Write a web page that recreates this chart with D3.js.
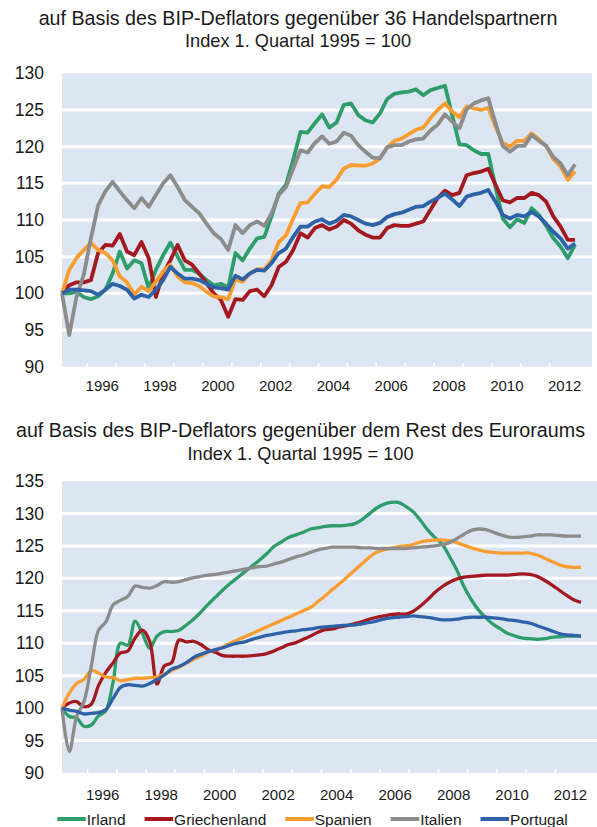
<!DOCTYPE html>
<html><head><meta charset="utf-8">
<script src="https://cdn.jsdelivr.net/npm/d3@7"></script>
<style>
body{margin:0;background:#fff}
svg{display:block}
text{font-family:"Liberation Sans",Arial,Helvetica,sans-serif;fill:#1a1a1a}
</style>
</head><body>
<svg id="chart" width="597" height="827"></svg>
<script>
// ---------- data ----------
const seriesNames = ["Irland","Griechenland","Spanien","Italien","Portugal"];
const seriesColors = ["#2f9d6a","#a3191f","#f99d31","#8c8c8c","#2d62a8"];
const yearLabels = ["1996","1998","2000","2002","2004","2006","2008","2010","2012"];
const firstYear = 1995;
const titles = ["auf Basis des BIP-Deflators gegenüber 36 Handelspartnern","auf Basis des BIP-Deflators gegenüber dem Rest des Euroraums"];
const subtitle = "Index 1. Quartal 1995 = 100";
const topYTicks = [90,95,100,105,110,115,120,125,130];
const botYTicks = [90,95,100,105,110,115,120,125,130,135];

// Chart 1: gegenüber 36 Handelspartnern (quarterly, 1995Q1..2012Q4)
const topIrland = [100,100,100.2,99.5,99.2,99.6,100.5,102.7,105.7,103.4,104.5,104.1,100.7,103.2,105.2,106.9,105,103.2,103.2,102.7,101.8,101.1,101.3,100.8,105.5,104.5,106.1,107.5,107.7,110.5,113.6,114.8,118.2,122,121.9,123.2,124.4,122.6,123.3,125.7,125.9,124.3,123.6,123.3,124.5,126.5,127.2,127.4,127.5,127.8,127,127.7,128,128.3,124.3,120.3,120.2,119.5,119,119,114.5,110.2,109,110.1,109.6,111.6,110.7,109.2,107.5,106.4,104.8,106.6];
const topGriechenland = [100,101.1,101.5,101.5,101.8,105.5,106.6,106.5,108.1,105.7,105.2,107,104.8,99.5,102.7,104.5,106.6,104.5,103.9,102.7,101.4,100,99.1,96.8,99.2,99.1,100.3,100.5,99.6,101.1,103.6,104.3,105.9,108.2,107.6,108.9,109.3,108.7,109.1,110,109.5,108.6,108,107.6,107.6,108.9,109.3,109.2,109.2,109.5,109.8,111.4,113,114,113.4,113.7,116.1,116.4,116.6,117,114.8,112.7,112.4,113,113,113.7,113.4,112.5,110.5,109.1,107.3,107.3];
const topSpanien = [100,103.2,104.8,105.9,106.9,105.9,105.5,104.5,102.3,101.5,99.8,100.9,100.3,101.6,103,103.9,102.3,101.5,101.4,101,100.2,99.6,99.5,99.2,101.9,101.6,102.7,103.3,103.3,104.5,107,107.9,110.2,112.3,112.4,113.6,114.6,114.5,115.5,117,117.5,117.4,117.4,117.7,118.4,119.9,120.8,121.1,121.7,122.3,122.6,123.9,125,125.9,124.8,124,125.5,125.2,125,125.3,122.7,120.5,120,120.8,120.8,121.8,121,120.1,118.3,117.3,115.5,116.6];
const topItalien = [100,94.3,99.5,102.5,107.5,112,113.9,115.2,113.9,112.7,111.6,113,111.8,113.4,115,116.1,114.5,112.7,111.8,110.9,109.5,108.2,107.4,105.9,109.3,108.2,109.3,109.8,109.2,110.9,113.4,114.5,117,119.5,119.2,120.5,121.4,120.4,120.7,121.9,121.5,120.2,119.3,118.5,118.4,119.9,120.2,120.2,120.7,121,121.1,122.2,123,124.4,123.4,122.5,125.1,125.9,126.3,126.6,123.2,120.1,119.3,120.1,120.1,121.6,120.8,120.1,118.6,117.7,116.1,117.6];
const topPortugal = [100,100.5,100.5,100.4,100.3,99.8,100.5,101.3,101,100.5,99.3,99.8,99.5,100.5,101.8,103.6,102.7,102,102,101.8,101.3,100.8,100.7,100.5,102.4,101.9,102.7,103.2,103.1,104.1,105.5,106.1,107.7,109.1,109.1,109.8,110.1,109.5,109.9,110.7,110.5,110,109.5,109.3,109.6,110.4,110.8,111,111.4,111.8,111.9,112.5,113,113.6,112.8,111.9,113.2,113.5,113.7,114.1,112.5,110.7,110.2,110.7,110.5,111.1,110.5,109.5,108.4,107.5,106.1,106.8];

// Chart 2: gegenüber dem Rest des Euroraums (quarterly, 1995Q1..2012Q4)
const botIrland = [100,98.7,98.5,97.2,97.4,98.8,99.6,104.1,110,109.7,113.4,111.5,109.2,111.1,111.8,111.8,112,112.8,113.7,114.8,116,117.1,118.2,119.2,120.1,121,121.9,122.8,123.8,124.9,125.6,126.3,126.7,127.1,127.6,127.8,128,128.1,128.1,128.2,128.4,129,129.9,130.8,131.4,131.7,131.7,131.1,130.3,129,127.5,126.3,125.3,123.4,121.3,118.7,116.7,115.1,113.9,112.9,112.2,111.5,111.1,110.8,110.7,110.6,110.7,110.9,111,111.1,111.1,111.1];
const botGriechenland = [100,100.8,101,100.2,100.6,103.5,105.5,107,108.5,108.8,110.8,112,110.3,103.7,106.5,107,110.5,110.2,110.3,109.8,109,108.6,108.1,108,108,108,108.1,108.2,108.4,108.8,109.3,109.8,110.1,110.6,111.1,111.7,112.1,112.2,112.5,112.7,113,113.3,113.7,114,114.2,114.4,114.5,114.5,114.9,115.7,116.7,117.8,118.7,119.4,119.9,120.2,120.3,120.4,120.5,120.5,120.5,120.5,120.6,120.7,120.6,120.3,119.7,119,118.2,117.4,116.7,116.3];
const botSpanien = [100,102.3,103.8,104.4,105.8,105.4,104.8,104.7,104.2,104.4,104.6,104.6,104.7,104.8,105.2,105.8,106.3,106.9,107.5,108,108.6,109,109.4,110,110.5,111,111.5,112,112.5,113,113.5,114,114.5,115,115.5,116.4,117.3,118.3,119.2,120.2,121.2,122.2,123.2,124,124.4,124.6,124.9,125,125.2,125.6,125.8,125.9,125.9,125.8,125.5,125.1,124.7,124.4,124.1,124,123.9,123.9,123.9,123.9,123.9,123.6,123.1,122.6,122.1,121.8,121.7,121.7];
const botItalien = [100,93.3,98.7,101,106.4,112,113.3,115.9,116.6,117.2,118.8,118.6,118.5,118.9,119.5,119.4,119.5,119.8,120.1,120.3,120.5,120.6,120.8,121,121.2,121.4,121.6,121.8,121.9,122.2,122.5,122.9,123.3,123.6,124,124.4,124.6,124.8,124.8,124.8,124.8,124.7,124.7,124.6,124.6,124.6,124.6,124.6,124.7,124.8,124.9,125,125.2,125.5,126.1,126.8,127.4,127.6,127.5,127.1,126.7,126.4,126.3,126.4,126.5,126.7,126.7,126.7,126.6,126.5,126.5,126.5];
const botPortugal = [100,99.7,99.5,99.1,99.2,99.3,99.8,101.5,103.2,103.6,103.5,103.4,103.8,104.4,105.1,106,106.4,107,107.8,108.3,108.7,109,109.3,109.7,110,110.2,110.6,110.9,111.2,111.4,111.6,111.8,111.9,112.1,112.2,112.4,112.5,112.6,112.7,112.8,112.8,113,113.2,113.4,113.7,113.9,114,114.1,114.2,114.1,114,113.8,113.6,113.6,113.7,113.9,114,114,114,113.9,113.8,113.6,113.5,113.3,113.1,112.7,112.3,111.9,111.5,111.3,111.2,111.1];

const topSeries = [topIrland, topGriechenland, topSpanien, topItalien, topPortugal];
const botSeries = [botIrland, botGriechenland, botSpanien, botItalien, botPortugal];

// ---------- layout ----------
const svg = d3.select("#chart");
const nQ = topIrland.length;

const panels = [
  {series: topSeries, title: titles[0], titleY: 25, subY: 47, titleX: 298, titleSize: 19.7, subSize: 18.2,
   plotL: 62, plotR: 592, plotT: 73.3, plotB: 366.7, dataR: 575, yDomain: [90,130], yTicks: topYTicks,
   xLabelY: 391, lineW: 3.8, curve: d3.curveLinear},
  {series: botSeries, title: titles[1], titleY: 437, subY: 460, titleX: 300.5, titleSize: 19.7, subSize: 18.2,
   plotL: 62, plotR: 597, plotT: 481, plotB: 773, dataR: 581, yDomain: [90,135], yTicks: botYTicks,
   xLabelY: 800, lineW: 3.3, curve: d3.curveCatmullRom.alpha(0.5)}
];

panels.forEach(p => {
  const g = svg.append("g");
  const x = d3.scaleLinear().domain([0, nQ - 1]).range([p.plotL, p.dataR]);
  const y = d3.scaleLinear().domain(p.yDomain).range([p.plotB, p.plotT]);

  // titles
  g.append("text").attr("x", p.titleX).attr("y", p.titleY).attr("text-anchor","middle")
    .style("font-size", p.titleSize + "px").text(p.title);
  g.append("text").attr("x", p.titleX).attr("y", p.subY).attr("text-anchor","middle")
    .style("font-size", p.subSize + "px").text(subtitle);

  // plot background
  g.append("rect").attr("x", p.plotL).attr("y", p.plotT)
    .attr("width", p.plotR - p.plotL).attr("height", p.plotB - p.plotT).attr("fill", "#dce6f2");

  // gridlines
  g.selectAll(".grid").data(p.yTicks.filter(v => v > p.yDomain[0] && v < p.yDomain[1]))
    .enter().append("line")
    .attr("x1", p.plotL).attr("x2", p.plotR)
    .attr("y1", d => y(d)).attr("y2", d => y(d))
    .attr("stroke", "#fff").attr("stroke-width", 3);

  // x tick marks (year boundaries)
  const tickIdx = d3.range(1, 18).map(k => 4 * k - 0.5);
  g.selectAll(".xt").data(tickIdx).enter().append("line")
    .attr("x1", d => x(d)).attr("x2", d => x(d))
    .attr("y1", p.plotB).attr("y2", p.plotB - 4)
    .attr("stroke", "#fff").attr("stroke-width", 1.5);

  // y axis labels
  const yAxis = d3.axisLeft(y).tickValues(p.yTicks).tickSize(0).tickPadding(18);
  const ya = g.append("g").attr("transform", `translate(${p.plotL},0)`).call(yAxis);
  ya.select(".domain").remove();
  ya.selectAll("text").style("font-size", "17.5px").style("font-family", null).attr("fill", "#1a1a1a");
  ya.attr("font-family", null).attr("font-size", null);

  // x axis labels (centered on year)
  const labelIdx = yearLabels.map(yl => (+yl - firstYear) * 4 + 1.5);
  const xAxis = d3.axisBottom(x).tickValues(labelIdx)
    .tickFormat((d, i) => yearLabels[i]).tickSize(0).tickPadding(0);
  const xa = g.append("g").attr("transform", `translate(0,${p.xLabelY})`).call(xAxis);
  xa.select(".domain").remove();
  xa.attr("font-family", null).attr("font-size", null);
  xa.selectAll("text").attr("dy", null).attr("y", 0).style("font-size", "15px").attr("fill", "#1a1a1a");

  // lines
  const line = d3.line().x((d, i) => x(i)).y(d => y(d)).curve(p.curve);
  p.series.forEach((s, si) => {
    g.append("path").datum(s).attr("d", line)
      .attr("fill", "none").attr("stroke", seriesColors[si])
      .attr("stroke-width", p.lineW).attr("stroke-linejoin", "round").attr("stroke-linecap", "butt");
  });
});

// legend
const lg = svg.append("g");
let lx = 57.3;
const ly = 819;
seriesNames.forEach((name, i) => {
  lg.append("line").attr("x1", lx).attr("x2", lx + 28.5).attr("y1", ly).attr("y2", ly)
    .attr("stroke", seriesColors[i]).attr("stroke-width", 4);
  const t = lg.append("text").attr("x", lx + 29.5).attr("y", ly + 5.6)
    .style("font-size", "15.5px").text(name);
  lx = lx + 29.5 + t.node().getComputedTextLength() + 19;
});
</script>
</body></html>
